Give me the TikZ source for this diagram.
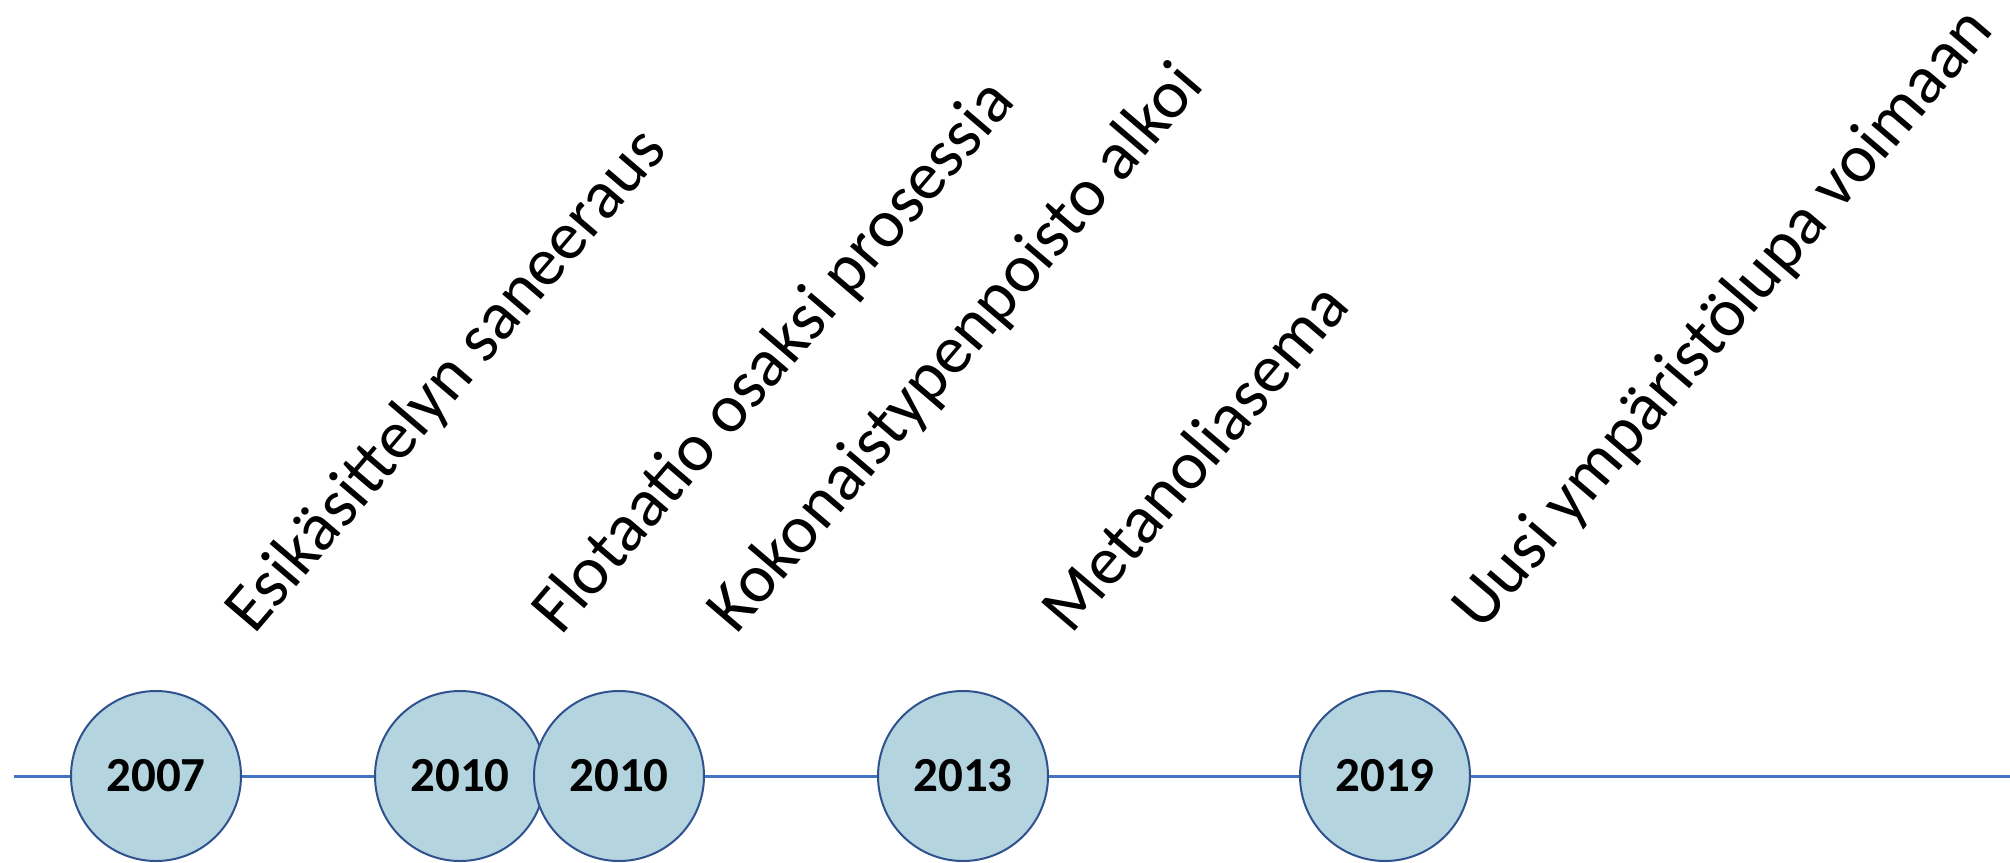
\documentclass[tikz,border=0pt]{standalone}
\usepackage{fontspec}
\setmainfont{Carlito}
\definecolor{axisblue}{RGB}{68,114,196}
\definecolor{ringblue}{RGB}{47,82,143}
\definecolor{dotfill}{RGB}{180,212,224}
\tikzset{
  yearnode/.style={circle, minimum size=170pt, inner sep=0pt, draw=ringblue, line width=2pt, fill=dotfill,
     font=\fontsize{49}{58}\selectfont\bfseries},
  axisline/.style={draw=axisblue, line width=3pt},
  eventlabel/.style={anchor=base west, inner sep=0pt, rotate=49.5, font=\fontsize{68.5}{80}\selectfont}
}
\begin{document}
\begin{tikzpicture}[x=1pt,y=-1pt]
\useasboundingbox (0,0) rectangle (2010,862);
\coordinate (L) at (14,776);
\coordinate (R) at (2010,776);
\node[yearnode] (c1) at (156,776) {2007};
\node[yearnode] (c2) at (460,776) {2010};
\node[yearnode] (c3) at (619,776) {2010};
\node[yearnode] (c4) at (963,776) {2013};
\node[yearnode] (c5) at (1385,776) {2019};
\path[axisline] (L) -- (c1.west) (c1.east) -- (c2.west) (c3.east) -- (c4.west) (c4.east) -- (c5.west) (c5.east) -- (R);
\node[eventlabel] (e1) at (254,636) {Esikäsittelyn saneeraus};
\node[eventlabel] (e2) at (561,637) {Flotaatio osaksi prosessia};
\node[eventlabel] (e3) at (736,636) {Kokonaistypenpoisto alkoi};
\node[eventlabel] (e4) at (1071,636) {Metanoliasema};
\node[eventlabel] (e5) at (1481,633) {Uusi ympäristölupa voimaan};
\end{tikzpicture}
\end{document}
